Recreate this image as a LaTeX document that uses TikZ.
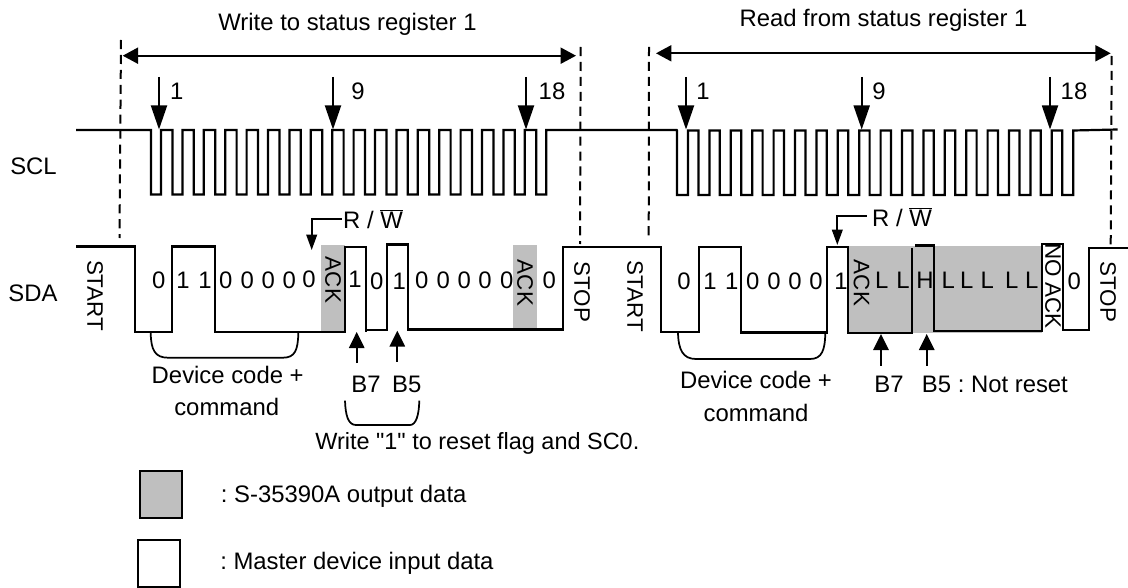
\documentclass[tikz,border=0pt]{standalone}
\usepackage{fontspec}
\setmainfont{Liberation Sans}[Ligatures=TeXOff]
\usetikzlibrary{arrows.meta}
\definecolor{outgray}{HTML}{BFBFBF}
\frenchspacing
\tikzset{
  x=0.75pt,y=-0.75pt,
  wire/.style={line width=1.65pt,line join=miter},
  thinwire/.style={line width=1.3pt},
  guide/.style={line width=1.5pt,dash pattern=on 6.8pt off 4.4pt},
  span/.style={line width=1.4pt,{Triangle[length=11.5pt,width=12pt]}-{Triangle[length=11.5pt,width=12pt]}},
  clockarrow/.style={line width=1.4pt,-{Triangle[length=18pt,width=12pt]},shorten >=0pt},
  rwarrow/.style={line width=1.3pt,-{Triangle[length=11.5pt,width=8pt]}},
  bitarrow/.style={line width=1.4pt,-{Triangle[length=12pt,width=11.5pt]}},
  txt/.style={inner sep=0pt,anchor=base,font=\fontsize{17.9}{20}\selectfont},
  ltxt/.style={txt,anchor=base west},
  vtxt/.style={inner sep=0pt,rotate=-90,font=\fontsize{16.8}{20}\selectfont},
  brace/.style={line width=1.3pt},
}
\begin{document}
\begin{tikzpicture}
\useasboundingbox (0,0) rectangle (1128,588);
% shaded output data
\fill[outgray] (321,245) rectangle (345,332);
\fill[outgray] (513,245) rectangle (536.7,330);
\fill[outgray] (848,246) rectangle (1041.7,332.5);
% guides
\coordinate (g1a) at (121,40);   \coordinate (g1b) at (119.5,238);
\coordinate (g2a) at (580.7,47); \coordinate (g2b) at (580,244);
\coordinate (g3a) at (649,47);   \coordinate (g3b) at (648.7,241);
\coordinate (g4a) at (1111.7,56);\coordinate (g4b) at (1110.7,245);
\draw[guide] (g1a) -- (g1b);
\draw[guide] (g2a) -- (g2b);
\draw[guide] (g3a) -- (g3b);
\draw[guide] (g4a) -- (g4b);
% spans
\coordinate (s1a) at (122.7,55.7); \coordinate (s1b) at (576,55.7);
\coordinate (s2a) at (656,53.3);   \coordinate (s2b) at (1110.7,53.3);
\draw[span] (s1a) -- (s1b);
\draw[span] (s2a) -- (s2b);
% SCL
\draw[wire] (76,130)
  \foreach \k in {0,...,18} { -- ({151+21.4*\k},130) -- ({151+21.4*\k},194.5) -- ({161+21.4*\k},194.5) -- ({161+21.4*\k},130) }
  -- (676.7,130)
  \foreach \k in {0,...,18} { -- ({677+21.4*\k},130.5) -- ({677+21.4*\k},195) -- ({688+21.4*\k},195) -- ({688+21.4*\k},130.5) }
  -- (1117.7,129.5);
% SDA
\draw[wire] (76,246.5) -- (135,246.5) -- (135,331.7) -- (171.7,331.7) -- (171.7,246.5) -- (215,246.5) -- (215,331.7)
  -- (345,331.7) -- (345,246.7) -- (365.7,246.7) -- (365.7,331.7);
\draw[wire] (367,330) -- (386.7,330) -- (386.7,244.5) -- (407.7,244.5) -- (407.7,329.5) -- (562.7,329.5) -- (562.7,247)
  -- (660.7,247) -- (660.7,331.7) -- (699,331.7) -- (699,247.3) -- (741,247.3) -- (741,332.5) -- (826.7,332.5)
  -- (826.7,247) -- (848,247) -- (848,332.7) -- (912,332.7) -- (912,247.7);
\draw[wire] (915,245.5) -- (934,245.5) -- (934,330.7) -- (1041.7,330.7) -- (1041.7,244.3) -- (1063.3,244.3)
  -- (1063.3,330) -- (1089.3,330) -- (1089.3,248) -- (1128,248);
% clock arrows
\foreach \n/\cx in {a/159,b/333,c/526,d/686,e/861.7,f/1050}{
  \coordinate (ck\n t) at (\cx,77);
  \coordinate (ck\n b) at (\cx,129.5);
  \draw[clockarrow] (ck\n t) -- (ck\n b);
}
% R/W arrows
\coordinate (rw1s) at (341.7,219); \coordinate (rw1c) at (311.7,219); \coordinate (rw1e) at (311.7,250);
\coordinate (rw2s) at (866.7,215.7); \coordinate (rw2c) at (837.3,215.7); \coordinate (rw2e) at (837.3,245);
\draw[rwarrow] (rw1s) -- (rw1c) -- (rw1e);
\draw[rwarrow] (rw2s) -- (rw2c) -- (rw2e);
% bit arrows
\foreach \n/\cx/\yb/\yt in {a/356.7/363/332,b/397.3/361.7/330.7,c/881/365.7/334,d/926.7/365.7/334}{
  \coordinate (bt\n b) at (\cx,\yb);
  \coordinate (bt\n t) at (\cx,\yt);
  \draw[bitarrow] (bt\n b) -- (bt\n t);
}
% braces
\draw[brace] (150.7,333) .. controls (151,350) and (155,357.7) .. (168,357.7) -- (283,357.7) .. controls (295,357.7) and (298,350) .. (298.3,333);
\draw[brace] (678,333) .. controls (678.5,350) and (683,359) .. (696,359) -- (810,359) .. controls (822,359) and (825,350) .. (825.3,333);
\draw[brace] (345,400.7) .. controls (345.5,415) and (348,425) .. (356,425) -- (410,425) .. controls (416,425) and (419,415) .. (419.3,400.7);
% legend
\node[draw,line width=1.5pt,fill=outgray,minimum width=31.5pt,minimum height=35pt,inner sep=0pt,anchor=north west] (legout) at (139,470) {};
\node[draw,line width=1.5pt,fill=white,minimum width=31.5pt,minimum height=35.5pt,inner sep=0pt,anchor=north west] (legin) at (136.7,538.5) {};
% labels
\node[txt] (t1) at (347.5,31) {Write to status register 1};
\node[txt] (t2) at (883.5,26.7) {Read from status register 1};
\node[txt] (scl) at (33.5,174.3) {SCL};
\node[txt] (sda) at (33,301.7) {SDA};
\node[txt] (n1a) at (176.7,100) {1};
\node[txt] (n1b) at (358,100) {9};
\node[txt] (n1c) at (552,100) {18};
\node[txt] (n2a) at (703,100) {1};
\node[txt] (n2b) at (879,100) {9};
\node[txt] (n2c) at (1074,99.5) {18};
\node[txt] (rw1) at (373,228.3) {R / $\overline{\mbox{W}}$};
\node[txt] (rw2) at (902,226.7) {R / $\overline{\mbox{W}}$};
\node[vtxt] (st1) at (95,295.7) {START};
\node[vtxt] (sp1) at (582,291.7) {STOP};
\node[vtxt] (st2) at (635,296) {START};
\node[vtxt] (sp2) at (1108,291.7) {STOP};
\node[vtxt] (ack1) at (333,280) {ACK};
\node[vtxt] (ack2) at (525,283) {ACK};
\node[vtxt] (ack3) at (861.7,283) {ACK};
\node[vtxt] (nack) at (1053,286) {NO ACK};
% bit digits
\foreach \n/\cx/\by/\s in {a/158.7/288.3/0,b/183/288.3/1,c/205/288.3/1,d/225.7/288.3/0,e/247.3/288.3/0,f/268.3/288.3/0,g/289.3/288.3/0,h/309/287.3/0,
  i/355/287.3/1,j/376.7/289.3/0,k/399.3/289.3/1,l/421.7/288.3/0,m/443.3/288.3/0,n/464.3/288.3/0,o/485/288.3/0,p/506.7/288.3/0,q/549.3/288.3/0,
  r/684/289/0,s/710/289/1,t/731.7/289/1,u/752.7/289/0,v/774/289/0,w/795/289/0,x/816/289/0,y/841/289/1,z/1074.3/289.3/0}{
  \node[txt] (d\n) at (\cx,\by) {\s};
}
\foreach \n/\cx/\s in {a/881.7/L,b/903/L,c/925/H,d/948.3/L,e/966.7/L,f/987.3/L,g/1011.7/L,h/1031.7/L}{
  \node[txt] (lv\n) at (\cx,288.3) {\s};
}
\node[txt] (dc1) at (227.7,383.3) {Device code +};
\node[txt] (cm1) at (226.7,415.7) {command};
\node[txt] (dc2) at (756,388.3) {Device code +};
\node[txt] (cm2) at (756,421) {command};
\node[txt] (b7a) at (366,392.7) {B7};
\node[txt] (b5a) at (406.7,392.7) {B5};
\node[txt] (b7b) at (889,392.3) {B7};
\node[ltxt] (b5b) at (921.7,392.3) {B5 : Not reset};
\node[ltxt,font=\fontsize{17.6}{20}\selectfont] (wr) at (315,449) {Write "1" to reset flag and SC0.};
\node[ltxt] (l1) at (220.7,502.7) {: S-35390A output data};
\node[ltxt] (l2) at (220,569.3) {: Master device input data};
\end{tikzpicture}
\end{document}
